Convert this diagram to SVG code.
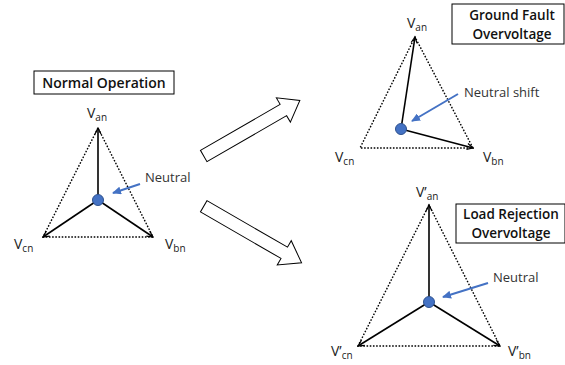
<svg xmlns="http://www.w3.org/2000/svg" width="565" height="365" viewBox="0 0 565 365">
<defs>
<marker id="vh" markerWidth="8" markerHeight="8" refX="7" refY="4" orient="auto" markerUnits="userSpaceOnUse">
<path d="M1,1 L7,4 L1,7" fill="none" stroke="#000" stroke-width="1.2"/>
</marker>
<marker id="bh" markerWidth="9" markerHeight="8" refX="8" refY="4" orient="auto" markerUnits="userSpaceOnUse">
<path d="M0,0 L9,4 L0,8 Z" fill="#4472C4"/>
</marker>
<style>
.box{fill:#fff;stroke:#000;stroke-width:1}
.title{font-family:"Open Sans","Noto Sans",sans-serif;font-size:14px;font-weight:600;fill:#111}
.t2{font-size:13.5px}
.lbl{font-family:"Open Sans","Noto Sans",sans-serif;font-size:14px;fill:#222}
.sub{font-size:10px}
.note{font-family:"Open Sans","Noto Sans",sans-serif;font-size:13px;fill:#333}
.dot{fill:none;stroke:#000;stroke-width:1.4;stroke-dasharray:1.6 1.6}
.ph{fill:none;stroke:#000;stroke-width:1.6;marker-end:url(#vh)}
.blue{fill:none;stroke:#4472C4;stroke-width:2;marker-end:url(#bh)}
.n{fill:#4472C4;stroke:#2F528F;stroke-width:1}
.big{fill:#fff;stroke:#000;stroke-width:1}
</style>
</defs>

<g id="normal">
<rect class="box" x="34" y="71" width="140" height="23"/>
<text class="title" x="104" y="87.5" text-anchor="middle">Normal Operation</text>
<polygon class="dot" points="98,128 43,237 153,237"/>
<line class="ph" x1="98" y1="200" x2="98" y2="128"/>
<line class="ph" x1="98" y1="200" x2="43" y2="237"/>
<line class="ph" x1="98" y1="200" x2="153" y2="237"/>
<circle class="n" cx="98" cy="200" r="5.5"/>
<text class="lbl" x="87" y="117.5">V<tspan class="sub" dy="3">an</tspan></text>
<text class="lbl" x="14" y="249">V<tspan class="sub" dy="3">cn</tspan></text>
<text class="lbl" x="165" y="249">V<tspan class="sub" dy="3">bn</tspan></text>
<text class="note" x="145" y="182">Neutral</text>
</g>

<g id="groundfault">
<rect class="box" x="452" y="4" width="112" height="40"/>
<text class="title t2" x="512" y="20" text-anchor="middle">Ground Fault</text>
<text class="title t2" x="512" y="38.5" text-anchor="middle">Overvoltage</text>
<polygon class="dot" points="415,37 360,148 473,148"/>
<line class="ph" x1="401" y1="129" x2="415" y2="37"/>
<line class="ph" x1="401" y1="129" x2="473" y2="148"/>
<circle class="n" cx="401" cy="129" r="5.5"/>
<text class="lbl" x="407" y="28">V<tspan class="sub" dy="3">an</tspan></text>
<text class="lbl" x="335" y="162">V<tspan class="sub" dy="3">cn</tspan></text>
<text class="lbl" x="483" y="162">V<tspan class="sub" dy="3">bn</tspan></text>
<text class="note" x="464" y="97">Neutral shift</text>
</g>

<g id="loadrejection">
<rect class="box" x="456" y="204" width="109" height="39"/>
<text class="title t2" x="511" y="219" text-anchor="middle">Load Rejection</text>
<text class="title t2" x="511" y="237.5" text-anchor="middle">Overvoltage</text>
<polygon class="dot" points="429,205 358,346 500,346"/>
<line class="ph" x1="429" y1="302" x2="429" y2="205"/>
<line class="ph" x1="429" y1="302" x2="358" y2="346"/>
<line class="ph" x1="429" y1="302" x2="500" y2="346"/>
<circle class="n" cx="429" cy="302" r="5.5"/>
<text class="lbl" x="416" y="196.5">V’<tspan class="sub" dy="3">an</tspan></text>
<text class="lbl" x="331" y="356">V’<tspan class="sub" dy="3">cn</tspan></text>
<text class="lbl" x="508" y="356">V’<tspan class="sub" dy="3">bn</tspan></text>
<text class="note" x="493" y="282">Neutral</text>
</g>

<g id="connectors">
<line class="blue" x1="140" y1="184" x2="113" y2="193"/>
<line class="blue" x1="458" y1="94" x2="412" y2="121"/>
<line class="blue" x1="488" y1="283" x2="443" y2="297"/>
<polygon class="big" transform="translate(203.7,156) rotate(-30)" points="0,-6.5 92,-6.5 92,-14 111,0 92,14 92,6.5 0,6.5"/>
<polygon class="big" transform="translate(203.7,206.3) rotate(30)" points="0,-6.5 93,-6.5 93,-14 113,0 93,14 93,6.5 0,6.5"/>
</g>
</svg>
